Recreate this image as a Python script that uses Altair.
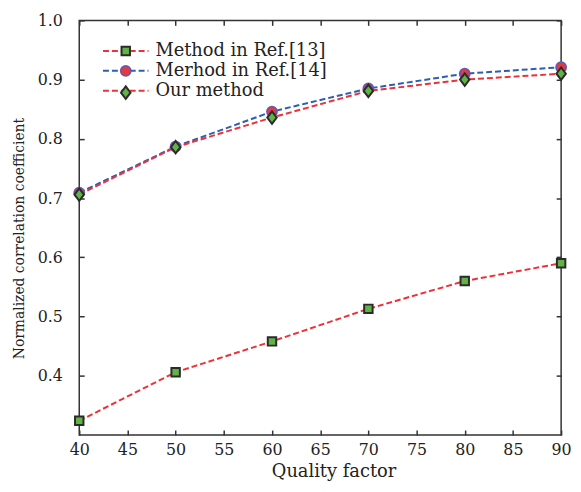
import altair as alt
import pandas as pd

quality = [40, 50, 60, 70, 80, 90]
ref13 = [0.324, 0.406, 0.458, 0.513, 0.560, 0.590]
ref14 = [0.709, 0.787, 0.846, 0.885, 0.910, 0.921]
ours = [0.706, 0.786, 0.836, 0.881, 0.900, 0.910]
series_names = ["Method in Ref.[13]", "Merhod in Ref.[14]", "Our method"]
x_ticks = [40, 45, 50, 55, 60, 65, 70, 75, 80, 85, 90]
y_ticks = [0.4, 0.5, 0.6, 0.7, 0.8, 0.9, 1.0]

line_colors = ["#ee3038", "#2b5fb4", "#ee3038"]
fill_colors = ["#62b346", "#e8383a", "#62b346"]
stroke_colors = ["#2b2b2b", "#6f56aa", "#2b2b2b"]
shape_paths = [
    "M-0.71,-0.71L0.71,-0.71L0.71,0.71L-0.71,0.71Z",
    "M-0.83,0A0.83,0.83,0,1,1,0.83,0A0.83,0.83,0,1,1,-0.83,0Z",
    "M0,-1.05L0.8,0L0,1.05L-0.8,0Z",
]
legend_line_path = "M-3.83,0L3.83,0"

rows = []
for idx, (name, vals) in enumerate(zip(series_names, [ref13, ref14, ours])):
    for q, v in zip(quality, vals):
        rows.append({"quality": q, "value": v, "series": name, "order": idx})
df = pd.DataFrame(rows)

x_scale = alt.Scale(domain=[40, 90], nice=False, zero=False)
y_scale = alt.Scale(domain=[0.3, 1.0], nice=False, zero=False)

tick_style = dict(tickColor="#333333", tickWidth=1.5, tickSize=5, offset=-5,
                  domain=False, grid=False)

lines = alt.Chart(df).mark_line(strokeWidth=2, strokeDash=[6, 3]).encode(
    x=alt.X("quality:Q", scale=x_scale, axis=alt.Axis(
        orient="bottom", values=x_ticks, title="Quality factor",
        labelPadding=7, labelFontSize=16, labelColor="#222222",
        labelFlush=False, labelOverlap=False,
        titleFontSize=18, titleFontWeight="normal", titleColor="#222222",
        titleX=257, titleY=47, titleBaseline="alphabetic", **tick_style)),
    y=alt.Y("value:Q", scale=y_scale, axis=alt.Axis(
        orient="left", values=y_ticks, format=".1f",
        title="Normalized correlation coefficient",
        labelPadding=17, labelFontSize=16, labelColor="#222222",
        labelOverlap=False,
        titleFontSize=14, titleFontWeight="normal", titleColor="#222222",
        titleX=-65, titleY=220, titleBaseline="middle", titleAngle=270,
        **tick_style)),
    color=alt.Color("series:N",
                    scale=alt.Scale(domain=series_names, range=line_colors),
                    legend=alt.Legend(orient="none", legendX=38, legendY=22,
                                      title=None, symbolType=legend_line_path,
                                      symbolSize=144, symbolStrokeWidth=2,
                                      symbolDash=[6, 3],
                                      symbolFillColor="transparent",
                                      labelFontSize=18, labelLimit=400,
                                      labelColor="#222222", labelOffset=21,
                                      rowPadding=2, padding=0)),
)

leg2 = alt.Legend(orient="none", legendX=38, legendY=22, title=None,
                  symbolSize=144, symbolStrokeWidth=2, labelFontSize=18,
                  labelExpr="' '", labelOffset=21,
                  rowPadding=2, padding=0)

points = alt.Chart(df).mark_point(filled=True, size=144, strokeWidth=2,
                                  opacity=1).encode(
    x=alt.X("quality:Q", scale=x_scale, axis=alt.Axis(
        orient="top", values=x_ticks, labels=False, title=None, **tick_style)),
    y=alt.Y("value:Q", scale=y_scale, axis=alt.Axis(
        orient="right", values=y_ticks, labels=False, title=None, **tick_style)),
    shape=alt.Shape("order:N", scale=alt.Scale(range=shape_paths), legend=leg2),
    fill=alt.Fill("order:N", scale=alt.Scale(range=fill_colors), legend=leg2),
    stroke=alt.Stroke("order:N", scale=alt.Scale(range=stroke_colors), legend=leg2),
)

chart = alt.layer(lines, points).resolve_axis(
    x="independent", y="independent"
).properties(
    width=487, height=419,
    autosize=alt.AutoSizeParams(type="none"),
    padding={"left": 72, "top": 10, "right": 12, "bottom": 47},
).configure(
    font="DejaVu Serif"
).configure_view(
    stroke="#333333", strokeWidth=1.5
)

chart.save("out.html", embed_options={"renderer": "svg", "actions": False})
